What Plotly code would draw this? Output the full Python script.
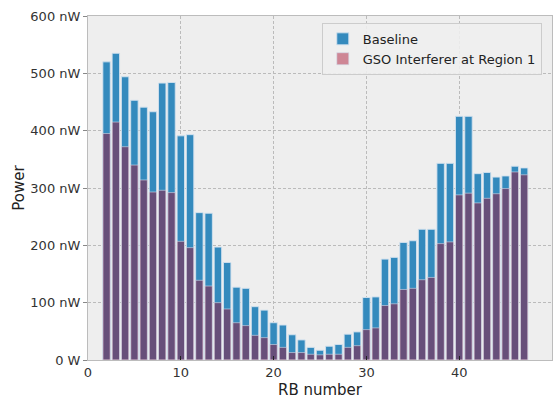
import plotly.graph_objects as go

rb = list(range(2, 48))
baseline = [520, 535, 494, 453, 441, 433, 483, 484, 391, 393, 257, 256, 197, 170, 127, 125,
            93, 87, 65, 61, 44, 35, 22, 17, 24, 27, 45, 49, 109, 110, 176, 179, 205, 208,
            228, 228, 343, 343, 425, 425, 325, 327, 319, 321, 338, 335]
gso = [395, 415, 372, 340, 314, 293, 296, 292, 207, 196, 139, 129, 100, 89, 65, 60,
       43, 39, 27, 22, 13, 13, 10, 9, 10, 10, 22, 25, 53, 56, 95, 98, 123, 125,
       140, 144, 203, 206, 288, 291, 274, 282, 290, 299, 328, 323]

ytickvals = [0, 100, 200, 300, 400, 500, 600]
yticktext = ["0 W", "100 nW", "200 nW", "300 nW", "400 nW", "500 nW", "600 nW"]
xtickvals = [0, 10, 20, 30, 40, 50]

font = "DejaVu Sans"

fig = go.Figure()
fig.add_trace(go.Bar(x=rb, y=baseline, name="Baseline", width=0.8,
                     marker=dict(color="#348ABD", line=dict(color="rgba(210,225,238,0.9)", width=1))))
fig.add_trace(go.Bar(x=rb, y=gso, name="GSO Interferer at Region 1", width=0.8,
                     marker=dict(color="rgba(166,6,40,0.45)", line=dict(color="rgba(210,220,235,0.6)", width=1))))

fig.update_layout(
    width=556, height=399,
    margin=dict(l=88, r=3, t=16, b=33),
    barmode="overlay",
    paper_bgcolor="white",
    plot_bgcolor="#EEEEEE",
    font=dict(family=font, size=13, color="#333333"),
    showlegend=True,
    legend=dict(x=0.978, y=0.98, xanchor="right", yanchor="top",
                bgcolor="rgba(238,238,238,0.9)", bordercolor="#CCCCCC", borderwidth=1,
                font=dict(family=font, size=13, color="#222222"),
                tracegroupgap=0),
    xaxis=dict(range=[0, 50], tickvals=xtickvals, ticks="inside", ticklen=4, tickcolor="#222222",
               showgrid=True, gridcolor="#BBBBBB", griddash="3px,2px", gridwidth=0.6,
               showline=True, linecolor="#BCBCBC", linewidth=1, mirror=True, zeroline=False,
               title=dict(text="RB number", font=dict(family=font, size=15, color="#222222"), standoff=6),
               tickfont=dict(family=font, size=13, color="#333333")),
    yaxis=dict(range=[0, 600], tickvals=ytickvals, ticktext=yticktext, ticks="outside", ticklen=4,
               tickcolor="#888888",
               showgrid=True, gridcolor="#BBBBBB", griddash="3px,2px", gridwidth=0.6,
               showline=True, linecolor="#BCBCBC", linewidth=1, mirror=True, zeroline=False,
               title=dict(text="Power", font=dict(family=font, size=15, color="#222222"), standoff=2),
               tickfont=dict(family=font, size=13, color="#333333")),
)

fig.write_html("out.html")
